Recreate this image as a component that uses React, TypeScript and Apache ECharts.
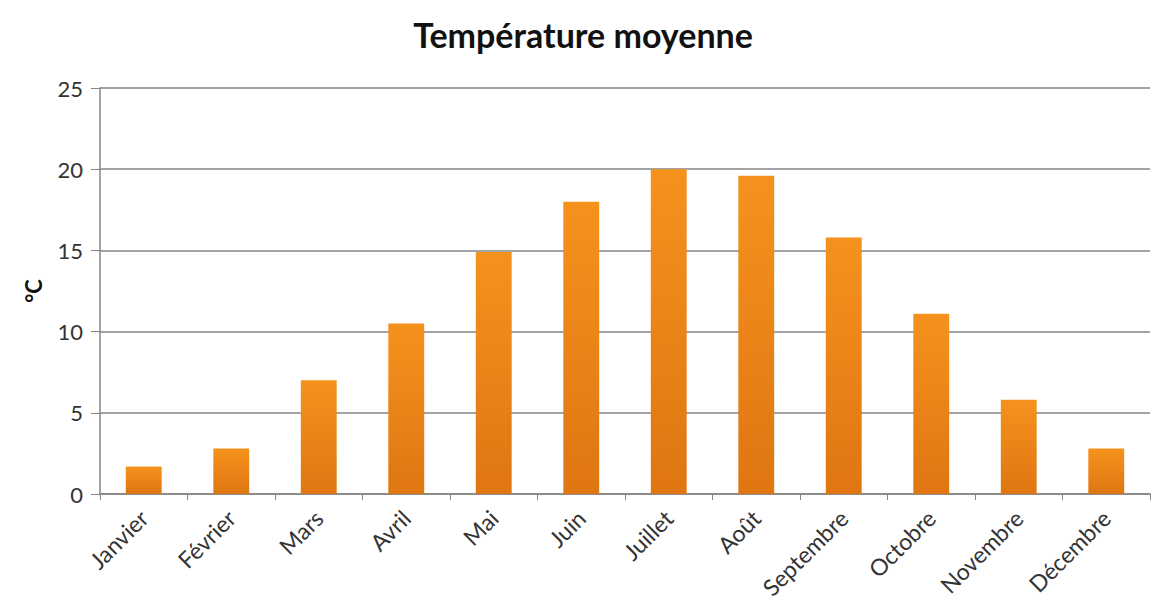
import React, { useEffect, useRef } from "react";
import * as echarts from "echarts";

const months = ["Janvier", "Février", "Mars", "Avril", "Mai", "Juin", "Juillet", "Août", "Septembre", "Octobre", "Novembre", "Décembre"];
const temperatures = [1.7, 2.8, 7.0, 10.5, 14.9, 18.0, 20.0, 19.6, 15.8, 11.1, 5.8, 2.8];
const yTicks = { min: 0, max: 25, interval: 5 };
const chartTitle = "Température moyenne";
const yName = "°C";

export default function App() {
  const ref = useRef<HTMLDivElement>(null);
  useEffect(() => {
    if (!ref.current) return;
    const chart = echarts.init(ref.current, null, { renderer: "svg" });
    const font = "Lato, 'Open Sans', sans-serif";
    chart.setOption({
      animation: false,
      backgroundColor: "#ffffff",
      title: {
        text: chartTitle,
        left: "center",
        top: 4,
        textStyle: { fontFamily: font, fontWeight: "bold", fontSize: 34, color: "#111" },
      },
      grid: { left: 92, right: 8, top: 80, bottom: 113, containLabel: false },
      xAxis: {
        type: "category",
        data: months,
        boundaryGap: true,
        axisLine: { show: true, lineStyle: { color: "#858585", width: 1.5 } },
        axisTick: { show: true, alignWithLabel: false, length: 6, lineStyle: { color: "#858585" } },
        axisLabel: {
          rotate: 45,
          interval: 0,
          fontFamily: font,
          fontSize: 23,
          color: "#333",
          margin: 20,
        },
      },
      yAxis: {
        type: "value",
        min: yTicks.min,
        max: yTicks.max,
        interval: yTicks.interval,
        name: yName,
        nameLocation: "middle",
        nameGap: 56,
        nameRotate: 90,
        nameTextStyle: { fontFamily: font, fontWeight: "bold", fontSize: 22, color: "#111" },
        axisLine: { show: true, lineStyle: { color: "#858585", width: 1.5 } },
        axisTick: { show: true, length: 9, lineStyle: { color: "#858585" } },
        axisLabel: { fontFamily: font, fontSize: 22, color: "#333", margin: 17 },
        splitLine: { show: true, lineStyle: { color: "#858585", width: 1.5 } },
      },
      series: [
        {
          type: "bar",
          data: temperatures,
          barWidth: "41%",
          itemStyle: {
            color: new echarts.graphic.LinearGradient(0, 0, 0, 1, [
              { offset: 0, color: "#f5921d" },
              { offset: 1, color: "#df7612" },
            ]),
          },
        },
      ],
    });
    return () => chart.dispose();
  }, []);
  return <div ref={ref} style={{ width: 1150, height: 599 }} />;
}
